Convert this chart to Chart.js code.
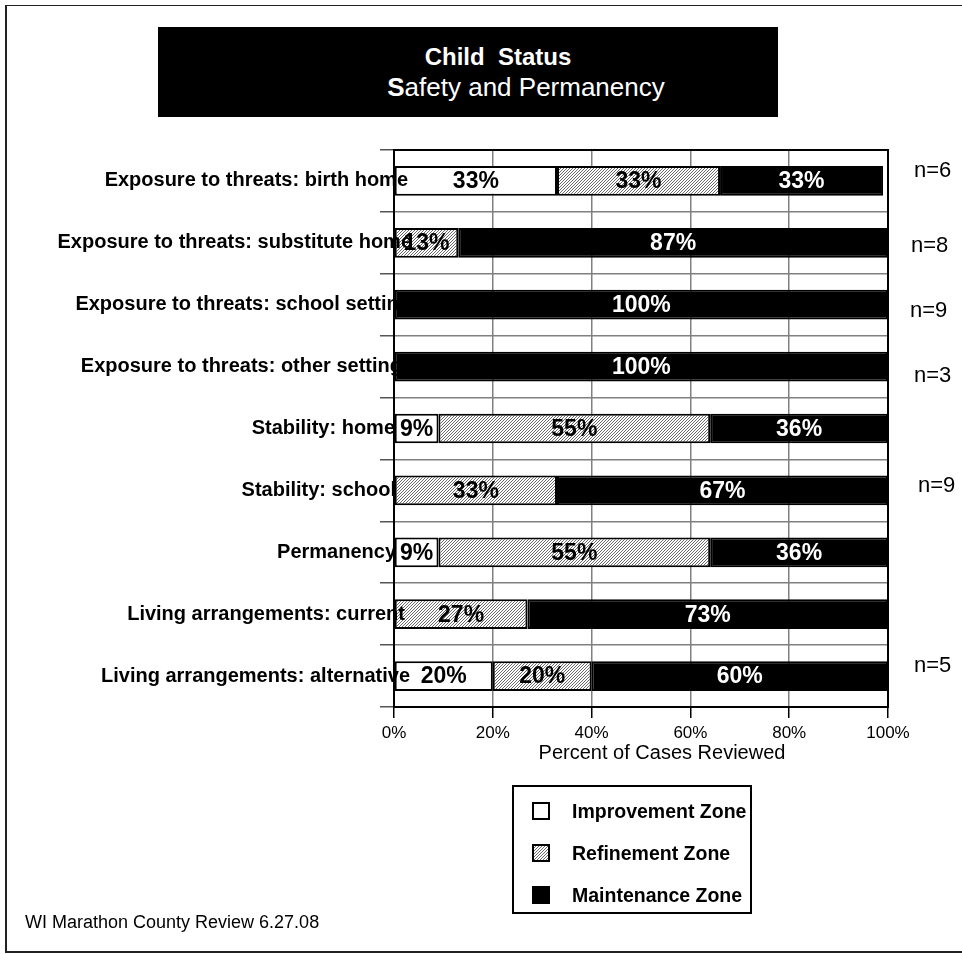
<!DOCTYPE html>
<html lang="en">
  <head>
    <meta charset="UTF-8" />
    <title>Child Status - Safety and Permanency</title>
    <script src="https://cdn.jsdelivr.net/npm/chart.js"></script>
    <style>
      html, body { margin: 0; padding: 0; background: #fff; }
      body {
        width: 962px; height: 954px; position: relative; overflow: hidden;
        font-family: "Liberation Sans", Arial, sans-serif; color: #000;
      }
      #frame {
        position: absolute; left: 5px; top: 5px; width: 970px; height: 948px;
        box-sizing: border-box; border-left: 2px solid #222;
        border-top: 1px solid #222; border-bottom: 2px solid #222;
      }
      #title-box {
        position: absolute; left: 158px; top: 27px; width: 620px; height: 90px;
        background: #000;
      }
      .title-line {
        position: absolute; width: 400px; text-align: center; color: #fff;
        line-height: 30px; white-space: pre;
      }
      #title-1 { left: 298px; top: 42px; font-size: 24px; font-weight: bold; }
      #title-2 { left: 326px; top: 72px; font-size: 26px; }
      #chart { position: absolute; left: 0; top: 0; }
      #legend {
        position: absolute; left: 512px; top: 785px; width: 240px; height: 129px;
        box-sizing: border-box; border: 2px solid #000; background: #fff;
      }
      .item {
        position: absolute; left: 18px; height: 22px; display: flex;
        align-items: center; font-weight: bold; font-size: 19.5px; white-space: nowrap;
      }
      .item canvas { margin-right: 22px; }
      #note {
        position: absolute; left: 25px; top: 912px; font-size: 18px; line-height: 20px;
      }
    </style>
  </head>
  <body>
    <div id="frame"></div>
    <div id="title-box"></div>
    <div id="title-1" class="title-line">Child  Status</div>
    <div id="title-2" class="title-line"><b>S</b>afety and Permanency</div>
    <canvas id="chart" width="962" height="954"></canvas>
    <div id="legend"></div>
    <div id="note">WI Marathon County Review 6.27.08</div>

    <script>
      const categories = [
        "Exposure to threats: birth home",
        "Exposure to threats: substitute home",
        "Exposure to threats: school setting",
        "Exposure to threats: other setting",
        "Stability: home",
        "Stability: school",
        "Permanency",
        "Living arrangements: current",
        "Living arrangements: alternative",
      ];
      const improvement = [33, 0, 0, 0, 9, 0, 9, 0, 20];
      const refinement = [33, 13, 0, 0, 55, 33, 55, 27, 20];
      const maintenance = [33, 87, 100, 100, 36, 67, 36, 73, 60];
      const caseCounts = [6, 8, 9, 3, null, 9, null, null, 5];
      const xTicks = [0, 20, 40, 60, 80, 100];

      // small layout nudges to mimic the original slide
      const labelEnd = [14, 18, 17, 8, 1, 2, 2, 11, 16];
      const countShift = [-10, 3, 6, 9, 0, -4, 0, 0, -10];
      const countX = [26, 23, 22, 26, 0, 30, 0, 0, 26];

      const FONT = '"Liberation Sans", Arial, sans-serif';

      function makeHatch(ctx) {
        const c = document.createElement("canvas");
        c.width = 3;
        c.height = 3;
        const g = c.getContext("2d");
        g.fillStyle = "#fff";
        g.fillRect(0, 0, 3, 3);
        g.fillStyle = "#6a6a6a";
        for (let i = 0; i < 3; i++) g.fillRect(i, 2 - i, 1, 1);
        return ctx.createPattern(c, "repeat");
      }

      const canvas = document.getElementById("chart");
      const ctx = canvas.getContext("2d");

      const plotFrame = {
        id: "plotFrame",
        beforeDatasetsDraw(chart) {
          const a = chart.chartArea;
          const c = chart.ctx;
          c.save();
          c.strokeStyle = "#000";
          c.lineWidth = 2;
          c.strokeRect(a.left, a.top, a.right - a.left, a.bottom - a.top);
          c.restore();
        },
      };

      const textLayer = {
        id: "textLayer",
        afterDatasetsDraw(chart) {
          const c = chart.ctx;
          const a = chart.chartArea;
          const y = chart.scales.y;
          c.save();
          c.textBaseline = "middle";

          // category labels
          c.fillStyle = "#000";
          c.textAlign = "right";
          c.font = "bold 20px " + FONT;
          categories.forEach((lab, i) => {
            c.fillText(lab, a.left + labelEnd[i], y.getPixelForValue(i));
          });

          // percentages inside the segments
          c.textAlign = "center";
          c.font = "bold 23px " + FONT;
          chart.data.datasets.forEach((ds, d) => {
            const meta = chart.getDatasetMeta(d);
            meta.data.forEach((bar, i) => {
              const v = ds.data[i];
              if (!v) return;
              const p = bar.getCenterPoint();
              c.fillStyle = d === 2 ? "#fff" : "#000";
              c.fillText(v + "%", p.x, p.y + 1);
            });
          });

          // n= counts at the right
          c.textAlign = "left";
          c.fillStyle = "#000";
          c.font = "22px " + FONT;
          caseCounts.forEach((n, i) => {
            if (n === null) return;
            c.fillText("n=" + n, a.right + countX[i], y.getPixelForValue(i) + countShift[i]);
          });

          // axis title, slightly right of centre as in the original
          c.textAlign = "center";
          c.font = "20px " + FONT;
          c.fillText("Percent of Cases Reviewed", (a.left + a.right) / 2 + 21, a.bottom + 46);
          c.restore();
        },
      };

      const chart = new Chart(ctx, {
        type: "bar",
        data: {
          labels: categories,
          datasets: [
            {
              label: "Improvement Zone",
              data: improvement,
              backgroundColor: "#fff",
            },
            {
              label: "Refinement Zone",
              data: refinement,
              backgroundColor: makeHatch(ctx),
            },
            {
              label: "Maintenance Zone",
              data: maintenance,
              backgroundColor: "#000",
            },
          ],
        },
        options: {
          indexAxis: "y",
          responsive: false,
          animation: false,
          devicePixelRatio: 1,
          layout: { padding: { left: 380, right: 74, top: 150, bottom: 187 } },
          datasets: {
            bar: {
              borderColor: "#000",
              borderWidth: 2,
              borderSkipped: false,
              barPercentage: 0.48,
              categoryPercentage: 1,
            },
          },
          plugins: {
            legend: { display: false },
            tooltip: { enabled: false },
          },
          scales: {
            x: {
              stacked: true,
              min: 0,
              max: 100,
              afterBuildTicks: (s) => {
                s.ticks = xTicks.map((v) => ({ value: v }));
              },
              afterFit: (s) => {
                s.height = 60;
              },
              ticks: {
                callback: (v) => v + "%",
                color: "#000",
                font: { family: FONT, size: 17 },
                padding: 5,
              },
              grid: {
                color: "#808080",
                lineWidth: 1.5,
                tickLength: 11,
                tickColor: "#000",
              },
              border: { color: "#000", width: 2 },
            },
            y: {
              stacked: true,
              afterFit: (s) => {
                s.width = 14;
              },
              ticks: { display: false },
              grid: {
                color: "#808080",
                lineWidth: 1.5,
                tickLength: 14,
                tickColor: "#555",
                offset: true,
              },
              border: { color: "#000", width: 2 },
            },
          },
        },
        plugins: [plotFrame, textLayer],
      });

      // legend box built from the datasets
      const legend = document.getElementById("legend");
      const rowTops = [13, 55, 97];
      chart.data.datasets.forEach((ds, i) => {
        const item = document.createElement("div");
        item.className = "item";
        item.style.top = rowTops[i] + "px";
        const sw = document.createElement("canvas");
        sw.width = 18;
        sw.height = 18;
        const g = sw.getContext("2d");
        g.fillStyle = i === 1 ? makeHatch(g) : ds.backgroundColor;
        g.fillRect(0, 0, 18, 18);
        g.strokeStyle = "#000";
        g.lineWidth = 2;
        g.strokeRect(1, 1, 16, 16);
        item.appendChild(sw);
        item.appendChild(document.createTextNode(ds.label));
        legend.appendChild(item);
      });
    </script>
  </body>
</html>
